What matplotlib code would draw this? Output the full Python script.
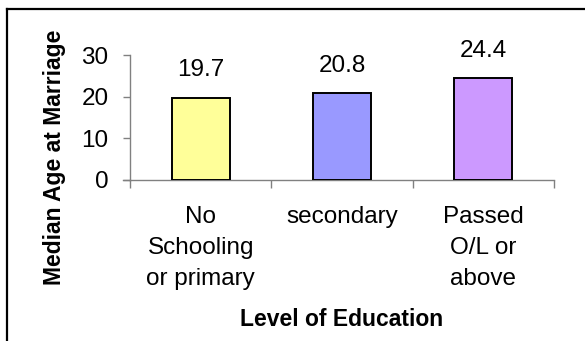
import matplotlib
matplotlib.use("Agg")
import matplotlib.pyplot as plt
from matplotlib.lines import Line2D

plt.rcParams['font.family'] = ['Liberation Sans', 'DejaVu Sans']

# median age at marriage by level of education
categories = ["No\nSchooling\nor primary", "secondary", "Passed\nO/L or\nabove"]
median_age = [19.7, 20.8, 24.4]
bar_colors = ["#FFFF99", "#9999FF", "#CC99FF"]
yticks = [0, 10, 20, 30]

fs = 17.5        # regular text
fs_bold = 16.5   # axis titles
axis_gray = "#808080"

fig = plt.figure(figsize=(5.85, 3.41), dpi=100)
ax = fig.add_axes([130/585, 1 - 180/341, 424/585, 125/341])

x = range(len(categories))
ax.bar(x, median_age, width=0.41, color=bar_colors, edgecolor="black", linewidth=1.4, zorder=3)

for xi, v in zip(x, median_age):
    ax.annotate("%.1f" % v, (xi, v), xytext=(0, 20), textcoords="offset points",
                ha="center", va="center", fontsize=fs)

ax.set_xlim(-0.5, len(categories) - 0.5)
ax.set_ylim(0, 30)
ax.set_yticks(yticks)
ax.tick_params(axis="y", direction="out", length=5, width=1, color=axis_gray,
               labelsize=fs, pad=10.5)

# category boundaries as major ticks, names on minor ticks
ax.set_xticks([-0.5, 0.5, 1.5, 2.5])
ax.set_xticklabels([])
ax.set_xticks(list(x), minor=True)
ax.set_xticklabels(categories, minor=True, linespacing=1.55)
ax.tick_params(axis="x", which="major", direction="out", length=6, width=1, color=axis_gray)
ax.tick_params(axis="x", which="minor", length=0, labelsize=fs, pad=18.5)

for side in ("top", "right"):
    ax.spines[side].set_visible(False)
for side in ("left", "bottom"):
    ax.spines[side].set_color(axis_gray)
    ax.spines[side].set_linewidth(1)
# let the zero line run past the y axis like a tick
ax.plot([-0.5 - 7/424*3, -0.5], [0, 0], color=axis_gray, lw=1, clip_on=False)

ax.set_xlabel("Level of Education", fontsize=fs_bold, fontweight="bold", va="center")
ax.xaxis.set_label_coords(0.5, -1.12)
ax.set_ylabel("Median Age at Marriage", fontsize=fs_bold, fontweight="bold", va="center")
ax.yaxis.set_label_coords(-75/424, 23/125)

# chart area border
fig.add_artist(Line2D([6.5/585, 6.5/585], [0, 1 - 9/341], color="black", lw=1.6,
                      transform=fig.transFigure))
fig.add_artist(Line2D([6.5/585, 1], [1 - 9/341, 1 - 9/341], color="black", lw=1.6,
                      transform=fig.transFigure))

fig.savefig("out.png", dpi=100)
